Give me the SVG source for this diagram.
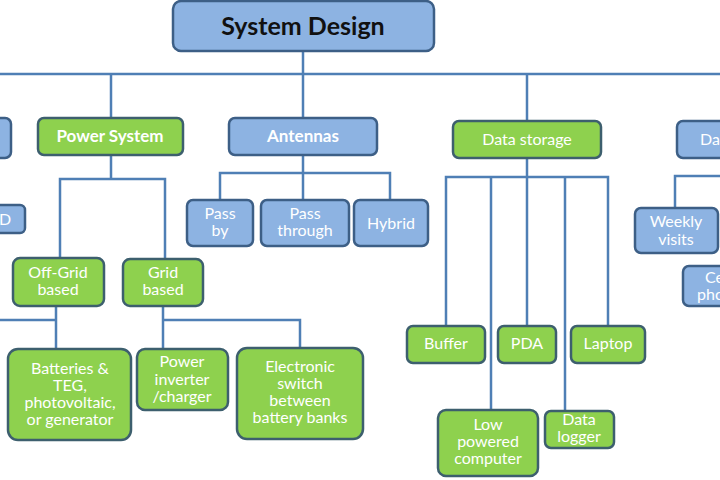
<svg xmlns="http://www.w3.org/2000/svg" width="720" height="480" viewBox="0 0 720 480">
<style>
.b{fill:#8db3e2;stroke:#3d5f86;stroke-width:2.5}
.g{fill:#8ed14e;stroke:#3d5f6e;stroke-width:2.5}
text{font-family:Lato,"Open Sans","Liberation Sans",sans-serif;font-size:16px;fill:#ffffff;text-anchor:middle}
.bold{font-weight:bold;font-size:17px}
.title{font-size:25px;font-weight:bold;fill:#111111}
.c line,.c path{stroke:#4f7fb5;stroke-width:2.5;fill:none}
</style>
<rect width="720" height="480" fill="#ffffff"/>
<g class="c" id="connectors">
<path d="M303 51V118"/>
<path d="M0 74H720"/>
<path d="M111 74V118"/>
<path d="M527 74V121"/>
<path d="M111 155V179M60 259V179H165V259"/>
<path d="M56 306V349M0 320H56"/>
<path d="M163 306V349M163 320H300V348"/>
<path d="M303 155V200M220 200V173H390V200"/>
<path d="M527 158V326M446 326V177H608V326M491 177V410M565 177V411"/>
<path d="M675 208V176H720"/>
</g>
<g id="system-design"><rect class="b" x="173" y="1" width="261" height="50" rx="8"/><text class="title" x="303" y="35">System Design</text></g>
<g id="left-cut"><rect class="b" x="-20" y="118" width="31" height="40" rx="6"/></g>
<g id="left-cut2"><rect class="b" x="-20" y="205" width="45" height="28" rx="5"/><text x="5" y="225">D</text></g>
<g id="power-system"><rect class="g" x="38" y="118" width="145" height="37" rx="6"/><text class="bold" x="110" y="142">Power System</text></g>
<g id="antennas"><rect class="b" x="229" y="118" width="148" height="37" rx="6"/><text class="bold" x="303" y="142">Antennas</text></g>
<g id="data-storage"><rect class="g" x="453" y="121" width="148" height="37" rx="6"/><text x="527" y="145">Data storage</text></g>
<g id="right-cut"><rect class="b" x="677" y="121" width="60" height="37" rx="6"/><text x="700" y="145" style="text-anchor:start">Da</text></g>
<g id="pass-by"><rect class="b" x="187" y="200" width="66" height="46" rx="6"/><text x="220" y="219">Pass</text><text x="220" y="236">by</text></g>
<g id="pass-through"><rect class="b" x="261" y="200" width="88" height="46" rx="6"/><text x="305" y="219">Pass</text><text x="305" y="236">through</text></g>
<g id="hybrid"><rect class="b" x="354" y="200" width="74" height="46" rx="6"/><text x="391" y="229">Hybrid</text></g>
<g id="weekly-visits"><rect class="b" x="635" y="208" width="83" height="45" rx="6"/><text x="676" y="227">Weekly</text><text x="676" y="245">visits</text></g>
<g id="cell-phone"><rect class="b" x="683" y="266" width="60" height="40" rx="6"/><text x="705" y="283" style="text-anchor:start">Ce</text><text x="697" y="300" style="text-anchor:start">pho</text></g>
<g id="off-grid"><rect class="g" x="13" y="258" width="91" height="48" rx="7"/><text x="58" y="278">Off-Grid</text><text x="58" y="295">based</text></g>
<g id="grid"><rect class="g" x="123" y="259" width="80" height="47" rx="7"/><text x="163" y="278">Grid</text><text x="163" y="295">based</text></g>
<g id="batteries"><rect class="g" x="8" y="349" width="123" height="91" rx="10"/><text x="70" y="374">Batteries &amp;</text><text x="70" y="391">TEG,</text><text x="70" y="408">photovoltaic,</text><text x="70" y="425">or generator</text></g>
<g id="power-inverter"><rect class="g" x="137" y="349" width="91" height="61" rx="8"/><text x="182" y="367">Power</text><text x="182" y="385">inverter</text><text x="182" y="402">/charger</text></g>
<g id="electronic-switch"><rect class="g" x="237" y="348" width="126" height="91" rx="10"/><text x="300" y="372">Electronic</text><text x="300" y="389">switch</text><text x="300" y="406">between</text><text x="300" y="423">battery banks</text></g>
<g id="buffer"><rect class="g" x="407" y="326" width="78" height="37" rx="6"/><text x="446" y="349">Buffer</text></g>
<g id="pda"><rect class="g" x="498" y="326" width="58" height="37" rx="6"/><text x="527" y="349">PDA</text></g>
<g id="laptop"><rect class="g" x="571" y="326" width="74" height="37" rx="6"/><text x="608" y="349">Laptop</text></g>
<g id="low-powered"><rect class="g" x="438" y="410" width="100" height="66" rx="8"/><text x="488" y="430">Low</text><text x="488" y="447">powered</text><text x="488" y="464">computer</text></g>
<g id="data-logger"><rect class="g" x="545" y="411" width="69" height="37" rx="6"/><text x="579" y="425">Data</text><text x="579" y="442">logger</text></g>
</svg>
